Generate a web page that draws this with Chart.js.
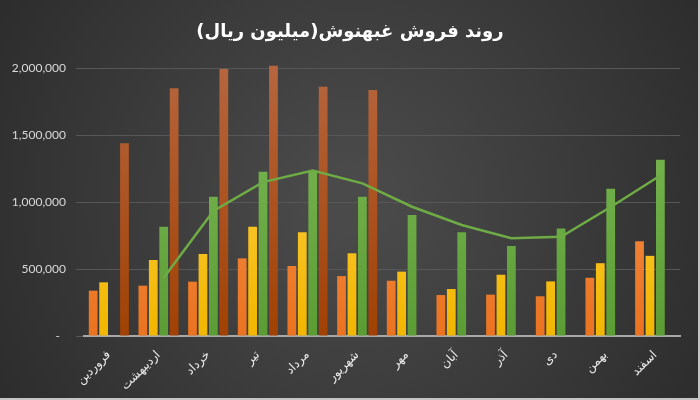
<!DOCTYPE html>
<html>
<head>
<meta charset="utf-8">
<script src="https://cdn.jsdelivr.net/npm/chart.js@4.4.0/dist/chart.umd.min.js"></script>
<style>
  html, body { margin: 0; padding: 0; background: #2e2e2e; }
  #wrap { width: 700px; height: 400px; position: relative; }
</style>
</head>
<body>
<div id="wrap"><canvas id="salesChart"></canvas></div>
<script>
// ماه‌ها
const months = ['فروردین', 'اردیبهشت', 'خرداد', 'تیر', 'مرداد', 'شهریور', 'مهر', 'آبان', 'آذر', 'دی', 'بهمن', 'اسفند'];

// فروش ماهانه (میلیون ریال) - چهار سری
const seriesOrange = [339000, 376000, 406000, 580000, 523000, 448000, 413000, 306000, 309000, 297000, 435000, 708000];
const seriesYellow = [401000, 568000, 613000, 817000, 775000, 618000, 481000, 351000, 458000, 408000, 544000, 599000];
const seriesGreen  = [null, 817000, 1041000, 1228000, 1236000, 1041000, 904000, 775000, 673000, 804000, 1101000, 1318000];
const seriesBrown  = [1440000, 1851000, 1996000, 2020000, 1863000, 1839000, null, null, null, null, null, null];

// خط روند (میانگین متحرک سری سبز، خوانده شده از تصویر)
const trendGreen = [null, 436000, 935000, 1150000, 1236000, 1141000, 966000, 830000, 730000, 742000, 964000, 1199000];

// برچسب‌های محور عمودی
const yTicks = [0, 500000, 1000000, 1500000, 2000000];

const chartTitle = 'روند فروش غبهنوش(میلیون ریال)\u200F';

// گرادیان عمودی برای ستون‌ها
function barGradient(top, bottom) {
    return function(context) {
        const area = context.chart.chartArea;
        if (!area) return bottom;
        const g = context.chart.ctx.createLinearGradient(0, area.top, 0, area.bottom);
        g.addColorStop(0, top);
        g.addColorStop(1, bottom);
        return g;
    };
}

const backgroundPlugin = {
    id: 'bg',
    beforeDraw(chart) {
        const { ctx, width, height } = chart;
        ctx.save();
        const g = ctx.createRadialGradient(width / 2, height / 2, 30, width / 2, height / 2, width * 0.62);
        g.addColorStop(0, '#4a4a4a');
        g.addColorStop(1, '#2a2a2a');
        ctx.fillStyle = g;
        ctx.fillRect(0, 0, width, height);
        // حاشیه روشن راست و پایین
        ctx.strokeStyle = '#c4c4c4';
        ctx.lineWidth = 2;
        ctx.beginPath();
        ctx.moveTo(width - 1, 0);
        ctx.lineTo(width - 1, height - 1);
        ctx.lineTo(0, height - 1);
        ctx.stroke();
        ctx.restore();
    },
    afterDraw(chart) {
        const ctx = chart.ctx;
        ctx.save();
        ctx.font = 'bold 18px "DejaVu Sans"';
        ctx.fillStyle = '#ffffff';
        ctx.textAlign = 'center';
        ctx.textBaseline = 'middle';
        ctx.fillText(chartTitle, 350, 32);
        ctx.restore();
    }
};

// خط روند را روی مرکز ستون سبز می‌برد
const trendShiftPlugin = {
    id: 'trendShift',
    beforeDatasetDraw(chart, args) {
        if (args.index !== 4) return;
        const greenBar = chart.getDatasetMeta(2).data[1];
        const shift = greenBar.x - chart.scales.x.getPixelForValue(1);
        chart.ctx.save();
        chart.ctx.translate(shift, 0);
    },
    afterDatasetDraw(chart, args) {
        if (args.index !== 4) return;
        chart.ctx.restore();
    }
};

const barOpts = { type: 'bar', categoryPercentage: 0.84, barPercentage: 0.84, order: 1 };

new Chart(document.getElementById('salesChart'), {
    type: 'bar',
    data: {
        labels: months,
        datasets: [
            Object.assign({ label: 'سری ۱', data: seriesOrange, backgroundColor: barGradient('#f59c58', '#ea7320') }, barOpts),
            Object.assign({ label: 'سری ۲', data: seriesYellow, backgroundColor: barGradient('#ffd659', '#f2b600') }, barOpts),
            Object.assign({ label: 'سری ۳', data: seriesGreen, backgroundColor: barGradient('#7fbd58', '#5c9c35') }, barOpts),
            Object.assign({ label: 'سری ۴', data: seriesBrown, backgroundColor: barGradient('#b76741', '#a14103') }, barOpts),
            {
                type: 'line',
                label: 'روند',
                data: trendGreen,
                borderColor: '#6fab45',
                borderWidth: 2.5,
                pointRadius: 0,
                tension: 0,
                order: 0
            }
        ]
    },
    options: {
        responsive: true,
        maintainAspectRatio: false,
        animation: false,
        layout: { padding: { top: 55, right: 20, left: 0, bottom: 0 } },
        scales: {
            x: {
                grid: { display: false },
                border: { color: '#a8a8a8', width: 2 },
                ticks: {
                    color: '#ececec',
                    font: { family: '"DejaVu Sans"', size: 12 },
                    minRotation: 45,
                    maxRotation: 45,
                    padding: 4
                },
                afterFit(scale) { scale.height = 64; }
            },
            y: {
                min: 0,
                max: 2100000,
                border: { display: false },
                grid: { color: '#575757', lineWidth: 1 },
                afterBuildTicks(scale) {
                    scale.ticks = yTicks.map(v => ({ value: v }));
                },
                ticks: {
                    color: '#d9d9d9',
                    font: { family: 'Lato', size: 12 },
                    padding: 10,
                    callback: v => v === 0 ? '-  ' : v.toLocaleString('en-US')
                },
                afterFit(scale) { scale.width = 84; }
            }
        },
        plugins: {
            legend: { display: false },
            tooltip: { enabled: false }
        }
    },
    plugins: [backgroundPlugin, trendShiftPlugin]
});
</script>
</body>
</html>
